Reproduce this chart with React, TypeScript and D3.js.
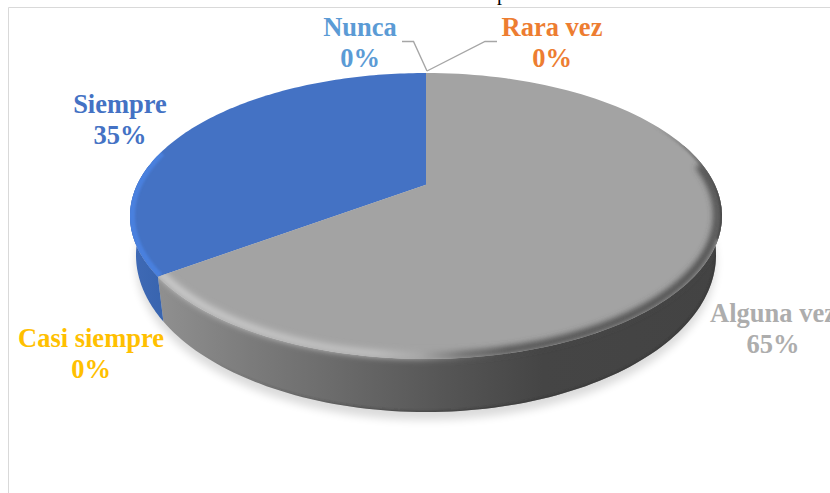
import React from "react";
import * as d3 from "d3";

const W = 830, H = 493;
const categories = ["Nunca", "Rara vez", "Alguna vez", "Casi siempre", "Siempre"];
const values = [0, 0, 65, 0, 35];
const percentLabels = ["0%", "0%", "65%", "0%", "35%"];
const sliceColors = ["#5b9bd5", "#ed7d31", "#a3a3a3", "#ffc000", "#4472c4"];
const labelColors = ["#5b9bd5", "#ed7d31", "#adadad", "#ffc000", "#4472c4"];
const labelCenters = [[360, 36], [552, 36], [773, 322], [91, 347], [120, 113]];

const cx = 426, p = -0.218;
const topE = { cy: 216, rx: 296, ry: 143 };
const lowE = { cy: 255, rx: 290, ry: 157 };
type E = typeof topE;

// Perspective: unit-circle Möbius map so the pie centre sits above the ellipse centre
function project(a: number, r = 1, e: E = topE): [number, number] {
  const u = r * Math.sin(a), v = -r * Math.cos(a);
  const den = 1 + p * v;
  return [cx + e.rx * (u * Math.sqrt(1 - p * p)) / den, e.cy + e.ry * ((v + p) / den)];
}

const pieGen = d3.pie<number>().value((d) => d).sort(null);
const arcs = pieGen(values);
const line = d3.line();
const samples = (a0: number, a1: number, r = 1, e: E = topE) =>
  d3.range(0, 121).map((i) => project(a0 + ((a1 - a0) * i) / 120, r, e));

const topPath = (a0: number, a1: number) =>
  line([project(0, 0), ...samples(a0, a1)]) + "Z";
const sidePath = (a0: number, a1: number) =>
  line([...samples(a0, a1), ...samples(a0, a1, 1, lowE).reverse()]) + "Z";
const rimLine = (a0: number, a1: number, r: number, e: E = topE) => line(samples(a0, a1, r, e)) ?? "";

const FONT = "'Liberation Serif', 'Times New Roman', serif";
const PI = Math.PI;
const grey = arcs[2], blue = arcs[4];
const whole = line(samples(0, 2 * PI)) + "Z";
const wholeLow = line(samples(0, 2 * PI, 1, lowE)) + "Z";
const nuncaLeader = d3.line()([[402, 41.5], [413.5, 41.5], [427, 71]] as [number, number][]) ?? "";
const raraLeader = d3.line()([[427, 71], [485, 41.5], [497, 41.5]] as [number, number][]) ?? "";

export default function App() {
  return (
    <svg width={W} height={H} viewBox={`0 0 ${W} ${H}`}
      style={{ position: "fixed", left: 0, top: 0, background: "#fff", fontFamily: FONT }}>
      <defs>
        <linearGradient id="wall" gradientUnits="userSpaceOnUse" x1={162} x2={722} y1={0} y2={0}>
          <stop offset="0" stopColor="#8f8f8f" />
          <stop offset="0.16" stopColor="#7b7b7b" />
          <stop offset="0.3" stopColor="#6c6c6c" />
          <stop offset="0.5" stopColor="#565656" />
          <stop offset="0.68" stopColor="#454545" />
          <stop offset="1" stopColor="#434343" />
        </linearGradient>
        <linearGradient id="wallBlue" gradientUnits="userSpaceOnUse" x1={130} x2={170} y1={0} y2={0}>
          <stop offset="0" stopColor="#3f6ab6" />
          <stop offset="1" stopColor="#3763ad" />
        </linearGradient>
        <linearGradient id="bevelGrey" gradientUnits="userSpaceOnUse" x1={162} x2={722} y1={0} y2={0}>
          <stop offset="0" stopColor="#cfcfcf" />
          <stop offset="0.38" stopColor="#c2c2c2" />
          <stop offset="0.46" stopColor="#a8a8a8" />
          <stop offset="0.54" stopColor="#6a6a6a" />
          <stop offset="0.62" stopColor="#484848" />
          <stop offset="1" stopColor="#444444" />
        </linearGradient>
        <linearGradient id="edgeDark" gradientUnits="userSpaceOnUse" x1={650} x2={722} y1={0} y2={0}>
          <stop offset="0" stopColor="#6a6a6a" stopOpacity={0} />
          <stop offset="0.7" stopColor="#555" stopOpacity={0.55} />
          <stop offset="1" stopColor="#444" stopOpacity={1} />
        </linearGradient>
        <linearGradient id="lip" gradientUnits="userSpaceOnUse" x1={200} x2={480} y1={0} y2={0}>
          <stop offset="0" stopColor="#333" stopOpacity={0} />
          <stop offset="1" stopColor="#333" stopOpacity={0.6} />
        </linearGradient>
        <filter id="soft2" x="-10%" y="-10%" width="120%" height="120%"><feGaussianBlur stdDeviation="3.2" /></filter>
        <filter id="thin" x="-10%" y="-10%" width="120%" height="120%"><feGaussianBlur stdDeviation="1" /></filter>
        <filter id="shadow" x="-10%" y="-10%" width="120%" height="120%"><feGaussianBlur stdDeviation="4" /></filter>
        <clipPath id="topClip"><path d={whole} /></clipPath>
        <clipPath id="greyWallClip"><path d={sidePath(PI * 0.4, grey.endAngle)} /></clipPath>
        <clipPath id="blueTop"><path d={topPath(blue.startAngle, blue.endAngle)} /></clipPath>
        <clipPath id="greyUnion"><path d={topPath(grey.startAngle, grey.endAngle)} /><path d={sidePath(PI * 0.4, grey.endAngle)} /></clipPath>
      </defs>

      {/* title fragment cut by the crop */}
      <text x={502} y={0} fontSize={20} fill="#000" textAnchor="middle">p</text>
      {/* frame */}
      <path d={`M${W},7.5H8.5V${H}`} fill="none" stroke="#d9d9d9" strokeWidth={1} />

      {/* shadow */}
      <path d={wholeLow} fill="#000" opacity={0.14} filter="url(#shadow)" transform="translate(0,8)" />

      {/* walls */}
      <path d={sidePath(PI * 0.4, grey.endAngle)} fill="url(#wall)" />
      <path d={sidePath(blue.startAngle, 3 * PI / 2 + 0.15)} fill="url(#wallBlue)" />

      {/* darker lip along the wall's base */}
      <g clipPath="url(#greyWallClip)">
        <path d={rimLine(PI / 2, grey.endAngle, 1, lowE)} fill="none" stroke="url(#lip)" strokeWidth={3} filter="url(#thin)" />
      </g>

      {/* top face */}
      <path d={topPath(blue.startAngle, blue.endAngle)} fill={sliceColors[4]} />
      <path d={topPath(grey.startAngle, grey.endAngle)} fill={sliceColors[2]} />

      {/* bevels */}
      <g clipPath="url(#greyUnion)">
        <path d={rimLine(PI / 2 - 0.15, grey.endAngle + 0.05, 0.985)} fill="none"
          stroke="url(#bevelGrey)" strokeWidth={7} filter="url(#soft2)" />
      </g>
      <g clipPath="url(#topClip)">
        <path d={rimLine(PI * 0.3, PI * 0.62, 1)} fill="none" stroke="url(#edgeDark)" strokeWidth={5} filter="url(#thin)" />
      </g>
      <g clipPath="url(#blueTop)">
        <path d={rimLine(blue.startAngle, 3 * PI / 2 + 0.25, 0.995)} fill="none"
          stroke="#4a80de" strokeWidth={7} filter="url(#thin)" />
      </g>

      {/* leaders */}
      <path d={nuncaLeader} fill="none" stroke="#a6a6a6" strokeWidth={1.4} />
      <path d={raraLeader} fill="none" stroke="#a6a6a6" strokeWidth={1.4} />

      {/* labels */}
      {categories.map((c, i) => (
        <text key={c} x={labelCenters[i][0]} y={labelCenters[i][1]} fontSize={26.5} fontWeight={700}
          fill={labelColors[i]} textAnchor="middle">
          <tspan x={labelCenters[i][0]}>{c}</tspan>
          <tspan x={labelCenters[i][0]} dy={31}>{percentLabels[i]}</tspan>
        </text>
      ))}
    </svg>
  );
}
